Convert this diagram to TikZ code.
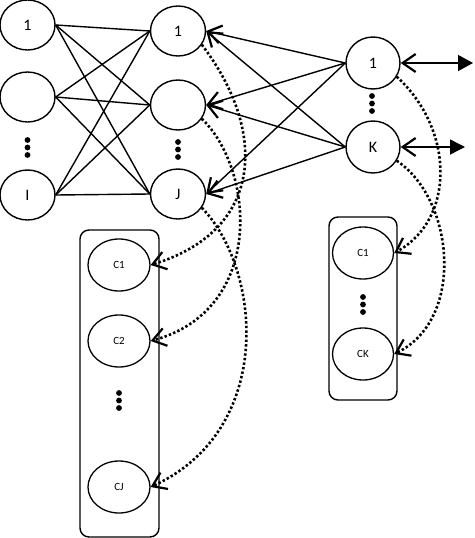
\documentclass[tikz,border=0pt]{standalone}
\usepackage{fontspec}
\setmainfont{Carlito}
\usetikzlibrary{shapes.geometric,arrows.meta}
\begin{document}
\begin{tikzpicture}[x=1pt,y=-1pt,
  neuron/.style={ellipse,draw,line width=1.4pt,minimum width=55pt,minimum height=50pt,inner sep=0pt,font=\fontsize{16}{16}\selectfont},
  cnode/.style={ellipse,draw,line width=1.3pt,minimum width=62pt,minimum height=52pt,inner sep=0pt,font=\fontsize{11}{11}\selectfont},
  grp/.style={draw,line width=1.4pt,rounded corners=9pt,inner sep=0pt},
  link/.style={line width=1.4pt},
  barbtip/.style={-{Straight Barb[length=13pt,width=18pt,line width=2.2pt]}},
  dotline/.style={line width=2.6pt,dash pattern=on 2.4pt off 2.2pt},
  dotfill/.style={circle,fill,inner sep=0pt,minimum size=5.8pt}]
\useasboundingbox (0,0) rectangle (474,538);
% groups
\node[grp,minimum width=79pt,minimum height=307pt] (lbox) at (119.5,383.5) {};
\node[grp,minimum width=68pt,minimum height=183pt] (rbox) at (363,308.5) {};
% input
\node[neuron] (i1) at (27.5,25) {1};
\node[neuron] (i2) at (27.5,97) {};
\node[neuron] (iI) at (27.5,195) {I};
% hidden
\node[neuron] (h1) at (178,31) {1};
\node[neuron] (h2) at (178,105) {};
\node[neuron] (hJ) at (178,194) {J};
% output
\node[neuron,minimum width=54pt,minimum height=52pt] (o1) at (373,63) {1};
\node[neuron,minimum width=54pt,minimum height=52pt] (oK) at (373,147) {K};
% C nodes
\node[cnode] (c1) at (119,265) {C1};
\node[cnode] (c2) at (119,341) {C2};
\node[cnode] (cJ) at (119,487) {CJ};
\node[cnode,minimum width=61pt] (rc1) at (363,253) {C1};
\node[cnode,minimum width=61pt] (rcK) at (363,354) {CK};
% dots
\foreach \n/\x/\y in {dotA/27.5/140,dotB/178/142,dotC/372/96,dotD/119/393,dotE/363/297}{
  \node[dotfill] (\n-1) at (\x,\y) {};
  \node[dotfill] (\n-2) at (\x,\y+7.5) {};
  \node[dotfill] (\n-3) at (\x,\y+15) {};
}
% input -> hidden
\foreach \a in {i1,i2,iI}{
  \foreach \b in {h1,h2,hJ}{
    \draw[link] (\a.east) -- (\b.west);
  }
}
% output -> hidden
\foreach \a in {o1,oK}{
  \foreach \b in {h1,h2,hJ}{
    \draw[link,barbtip] (\a.west) -- (\b.east);
  }
}
% output arrows
\coordinate (e1) at (473,63);
\coordinate (eK) at (465,147);
\draw[link,{Straight Barb[length=13pt,width=18pt,line width=2.2pt]}-{Triangle[length=15pt,width=16pt]}] (o1.east) -- (e1);
\draw[link,{Straight Barb[length=13pt,width=18pt,line width=2.2pt]}-{Triangle[length=15pt,width=15pt]}] (oK.east) -- (eK);
% dotted feedback
\draw[dotline,barbtip] (h1.-30) .. controls (267,130) and (265,230) .. (c1.east);
\draw[dotline,barbtip] (h2.-30) .. controls (255,170) and (265,310) .. (c2.east);
\draw[dotline,barbtip] (hJ.-30) .. controls (262,270) and (275,430) .. (cJ.east);
\draw[dotline,barbtip] (o1.-30) .. controls (455,130) and (455,220) .. (rc1.east);
\draw[dotline,barbtip] (oK.-30) .. controls (455,200) and (465,320) .. (rcK.east);
\end{tikzpicture}
\end{document}
